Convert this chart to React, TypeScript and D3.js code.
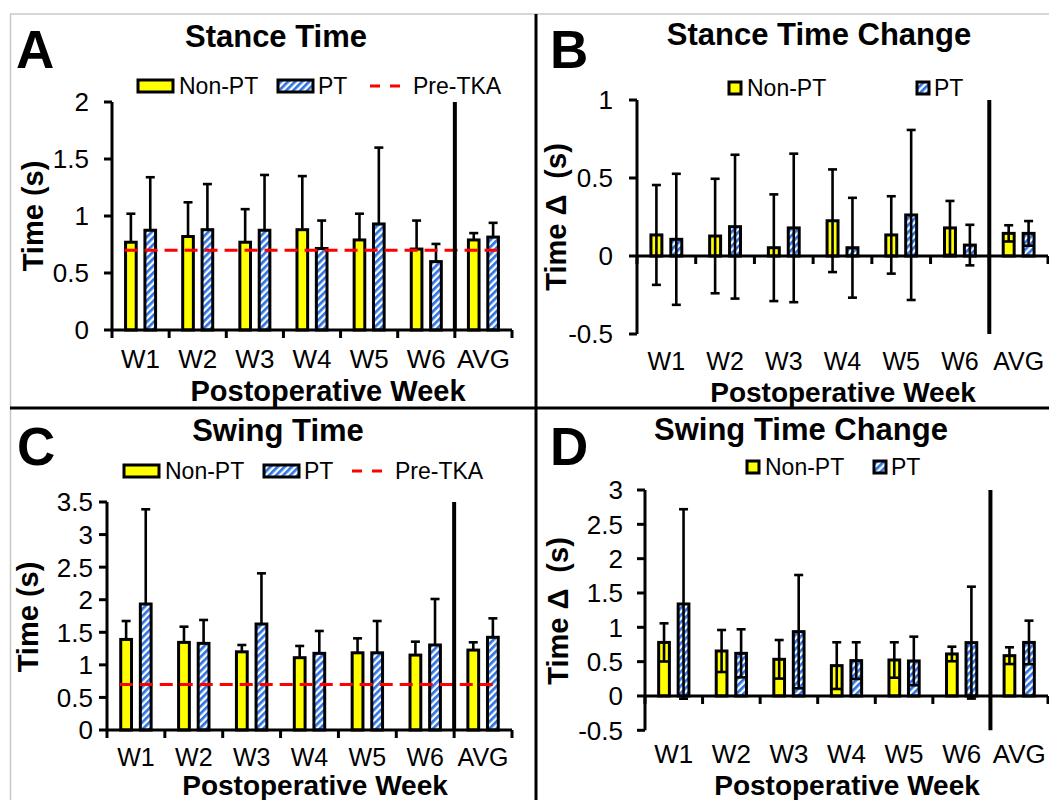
import React from 'react';
import * as d3 from 'd3';

const weeks = ['W1', 'W2', 'W3', 'W4', 'W5', 'W6', 'AVG'];
const groups = ['Non-PT', 'PT'];

// A - stance time (s): mean and SD
const stanceNonPT = [0.77, 0.82, 0.77, 0.88, 0.79, 0.71, 0.79];
const stanceNonPTsd = [0.25, 0.3, 0.29, 0.47, 0.23, 0.25, 0.06];
const stancePT = [0.875, 0.88, 0.875, 0.715, 0.93, 0.6, 0.815];
const stancePTsd = [0.465, 0.4, 0.485, 0.245, 0.67, 0.155, 0.125];
const stancePre = 0.7;

// B - stance time change (s)
const stanceChNonPT = [0.135, 0.128, 0.053, 0.226, 0.135, 0.18, 0.145];
const stanceChNonPTsd = [0.32, 0.367, 0.342, 0.329, 0.248, 0.173, 0.052];
const stanceChPT = [0.107, 0.188, 0.18, 0.053, 0.263, 0.07, 0.145];
const stanceChPTsd = [0.42, 0.461, 0.476, 0.32, 0.545, 0.13, 0.079];

// C - swing time (s)
const swingNonPT = [1.39, 1.345, 1.2, 1.11, 1.185, 1.15, 1.227];
const swingNonPTsd = [0.283, 0.241, 0.105, 0.18, 0.222, 0.206, 0.119];
const swingPT = [1.934, 1.33, 1.627, 1.177, 1.185, 1.305, 1.423];
const swingPTsd = [1.454, 0.359, 0.778, 0.343, 0.488, 0.706, 0.291];
const swingPre = 0.7;

// D - swing time change (s)
const swingChNonPT = [0.78, 0.655, 0.534, 0.442, 0.524, 0.612, 0.587];
const swingChNonPTsd = [0.278, 0.306, 0.281, 0.34, 0.258, 0.106, 0.122];
const swingChPT = [1.34, 0.621, 0.937, 0.515, 0.51, 0.777, 0.78];
const swingChPTsd = [1.38, 0.35, 0.825, 0.267, 0.354, 0.815, 0.317];

const ticksA = [0, 0.5, 1, 1.5, 2];
const ticksB = [-0.5, 0, 0.5, 1];
const ticksC = [0, 0.5, 1, 1.5, 2, 2.5, 3, 3.5];
const ticksD = [-0.5, 0, 0.5, 1, 1.5, 2, 2.5, 3];

const YELLOW = '#ffff00';
const BLUE = '#2f74e4';
const FONT = '"Liberation Sans", Arial, sans-serif';

type PanelCfg = {
  letter: string; title: string; yTitle: string;
  x0: number; x1: number; yTop: number; yBottom: number;
  domain: [number, number]; ticks: number[];
  means: number[][]; sds: number[][]; both: boolean; pre?: number;
  tickRight: number; xLabelY: number; xLabelSize: number;
  titleX: number; titleY: number; letterX: number; letterY: number;
  yTitleX: number; yTitleY: number; xTitleX: number; xTitleY: number; xTitleSize: number;
};

function Panel(p: PanelCfg) {
  const x = d3.scaleBand().domain(weeks).range([p.x0, p.x1]);
  const inner = d3.scaleBand().domain(groups).range([0, x.bandwidth()])
    .paddingInner(0.45).paddingOuter(0.7);
  const y = d3.scaleLinear().domain(p.domain).range([p.yBottom, p.yTop]);
  const y0 = y(0);
  const bw = inner.bandwidth();
  const bounds = weeks.map(w => x(w) as number).concat([p.x1]);

  return (
    <g>
      {/* bars */}
      {groups.map((g, gi) => weeks.map((w, i) => {
        const m = p.means[gi][i];
        const bx = (x(w) as number) + (inner(g) as number);
        return (
          <rect key={g + w} x={bx} y={Math.min(y(m), y0)} width={bw}
            height={Math.abs(y0 - y(m))} fill={gi === 0 ? YELLOW : 'url(#hatch)'}
            stroke="#000" strokeWidth={3} />
        );
      }))}
      {/* error bars */}
      {groups.map((g, gi) => weeks.map((w, i) => {
        const m = p.means[gi][i];
        const s = p.sds[gi][i];
        const cx = (x(w) as number) + (inner(g) as number) + bw / 2;
        const lo = p.both ? m - s : m;
        return (
          <g key={'e' + g + w} stroke="#000" strokeWidth={2.6}>
            <line x1={cx} x2={cx} y1={y(lo)} y2={y(m + s)} />
            <line x1={cx - 4.5} x2={cx + 4.5} y1={y(m + s)} y2={y(m + s)} />
            {p.both && <line x1={cx - 4.5} x2={cx + 4.5} y1={y(lo)} y2={y(lo)} />}
          </g>
        );
      }))}
      {/* pre-TKA reference */}
      {p.pre !== undefined && (
        <line x1={(x('W1') as number) + (inner('Non-PT') as number) - 1}
          x2={(x('AVG') as number) + (inner('PT') as number) + bw + 1}
          y1={y(p.pre)} y2={y(p.pre)} stroke="#ff0000" strokeWidth={3} strokeDasharray="13,7" />
      )}
      {/* y axis */}
      <line x1={p.x0} x2={p.x0} y1={p.yTop} y2={p.yBottom} stroke="#000" strokeWidth={3} />
      {p.ticks.map(t => (
        <g key={'t' + t}>
          <line x1={p.x0 - 8} x2={p.x0} y1={y(t)} y2={y(t)} stroke="#000" strokeWidth={3} />
          <text x={p.tickRight} y={y(t)} dy="0.36em" textAnchor="end" fontSize={26}>{String(t)}</text>
        </g>
      ))}
      {/* x axis */}
      <line x1={p.x0} x2={p.x1} y1={y0} y2={y0} stroke="#000" strokeWidth={3} />
      {bounds.map((b, i) => (
        <line key={'xb' + i} x1={b} x2={b} y1={y0} y2={y0 + 8} stroke="#000" strokeWidth={3} />
      ))}
      {weeks.map(w => (
        <text key={'xl' + w} x={(x(w) as number) + x.bandwidth() / 2} y={p.xLabelY}
          textAnchor="middle" fontSize={p.xLabelSize}>{w}</text>
      ))}
      {/* separator before AVG */}
      <line x1={x('AVG') as number} x2={x('AVG') as number} y1={p.yTop} y2={p.yBottom}
        stroke="#000" strokeWidth={4} />
      {/* titles */}
      <text x={p.titleX} y={p.titleY} textAnchor="middle" fontSize={31} fontWeight="bold">{p.title}</text>
      <text x={p.letterX} y={p.letterY} fontSize={53} fontWeight="bold">{p.letter}</text>
      <text transform={`translate(${p.yTitleX},${p.yTitleY}) rotate(-90)`} textAnchor="middle"
        fontSize={29} fontWeight="bold" style={{ whiteSpace: 'pre' }}>{p.yTitle}</text>
      <text x={p.xTitleX} y={p.xTitleY} textAnchor="middle" fontSize={p.xTitleSize} fontWeight="bold">Postoperative Week</text>
    </g>
  );
}

function WideLegend({ x, y, ptX, dashX, withPre }: { x: number; y: number; ptX: number; dashX: number; withPre: boolean }) {
  return (
    <g fontSize={23}>
      <rect x={x} y={y - 6} width={35} height={12} fill={YELLOW} stroke="#000" strokeWidth={3} />
      <text x={x + 41} y={y + 8}>Non-PT</text>
      <rect x={ptX} y={y - 6} width={35} height={12} fill="url(#hatch)" stroke="#000" strokeWidth={3} />
      <text x={ptX + 40} y={y + 8}>PT</text>
      {withPre && <line x1={dashX} x2={dashX + 30} y1={y} y2={y} stroke="#ff0000" strokeWidth={3} strokeDasharray="10,10" />}
      {withPre && <text x={dashX + 43} y={y + 8}>Pre-TKA</text>}
    </g>
  );
}

function SquareLegend({ x, y, ptX }: { x: number; y: number; ptX: number }) {
  return (
    <g fontSize={23}>
      <rect x={x + 1} y={y - 6} width={12} height={12} fill={YELLOW} stroke="#000" strokeWidth={3} />
      <text x={x + 19} y={y + 8}>Non-PT</text>
      <rect x={ptX + 1} y={y - 6} width={12} height={12} fill="url(#hatch)" stroke="#000" strokeWidth={3} />
      <text x={ptX + 18} y={y + 8}>PT</text>
    </g>
  );
}

export default function App() {
  const panels: PanelCfg[] = [
    {
      letter: 'A', title: 'Stance Time', yTitle: 'Time (s)',
      x0: 112, x1: 512, yTop: 102, yBottom: 330, domain: [0, 2], ticks: ticksA,
      means: [stanceNonPT, stancePT], sds: [stanceNonPTsd, stancePTsd], both: false, pre: stancePre,
      tickRight: 89, xLabelY: 368, xLabelSize: 26, titleX: 276, titleY: 47, letterX: 16, letterY: 68,
      yTitleX: 43, yTitleY: 216, xTitleX: 328, xTitleY: 401, xTitleSize: 29,
    },
    {
      letter: 'B', title: 'Stance Time Change', yTitle: 'Time Δ  (s)',
      x0: 637, x1: 1048, yTop: 100, yBottom: 334, domain: [-0.5, 1], ticks: ticksB,
      means: [stanceChNonPT, stanceChPT], sds: [stanceChNonPTsd, stanceChPTsd], both: true,
      tickRight: 613, xLabelY: 370, xLabelSize: 25, titleX: 819, titleY: 45, letterX: 550, letterY: 68,
      yTitleX: 566, yTitleY: 217, xTitleX: 843, xTitleY: 402, xTitleSize: 28,
    },
    {
      letter: 'C', title: 'Swing Time', yTitle: 'Time (s)',
      x0: 107, x1: 512, yTop: 502, yBottom: 730, domain: [0, 3.5], ticks: ticksC,
      means: [swingNonPT, swingPT], sds: [swingNonPTsd, swingPTsd], both: false, pre: swingPre,
      tickRight: 93, xLabelY: 766, xLabelSize: 25, titleX: 278, titleY: 441, letterX: 17, letterY: 465,
      yTitleX: 38, yTitleY: 617, xTitleX: 315, xTitleY: 795, xTitleSize: 28,
    },
    {
      letter: 'D', title: 'Swing Time Change', yTitle: 'Time Δ  (s)',
      x0: 645, x1: 1048, yTop: 490, yBottom: 730.3, domain: [-0.5, 3], ticks: ticksD,
      means: [swingChNonPT, swingChPT], sds: [swingChNonPTsd, swingChPTsd], both: true,
      tickRight: 623, xLabelY: 763, xLabelSize: 26, titleX: 801, titleY: 440, letterX: 550, letterY: 465,
      yTitleX: 568, yTitleY: 611, xTitleX: 847, xTitleY: 795, xTitleSize: 28,
    },
  ];

  return (
    <svg width={1049} height={800} style={{ position: 'absolute', left: 0, top: 0, background: '#fff' }}
      fontFamily={FONT}>
      <defs>
        <pattern id="hatch" patternUnits="userSpaceOnUse" width={5} height={5} patternTransform="rotate(45)">
          <rect width={5} height={5} fill="#fff" />
          <rect width={2.7} height={5} fill={BLUE} />
        </pattern>
      </defs>
      <rect width={1049} height={800} fill="#fff" />
      {panels.map(p => <Panel key={p.letter} {...p} />)}
      <WideLegend x={138} y={86} ptX={278} dashX={370} withPre={true} />
      <SquareLegend x={728} y={88} ptX={916} />
      <WideLegend x={124} y={471} ptX={264} dashX={352} withPre={true} />
      <SquareLegend x={746} y={467} ptX={873} />
      {/* frame and dividers */}
      <line x1={10} x2={1049} y1={14} y2={14} stroke="#c8c8c8" strokeWidth={1.5} />
      <line x1={10.5} x2={10.5} y1={14} y2={800} stroke="#c8c8c8" strokeWidth={1.5} />
      <line x1={10} x2={1049} y1={408} y2={408} stroke="#000" strokeWidth={3} />
      <line x1={536} x2={536} y1={14} y2={800} stroke="#000" strokeWidth={3} />
    </svg>
  );
}
